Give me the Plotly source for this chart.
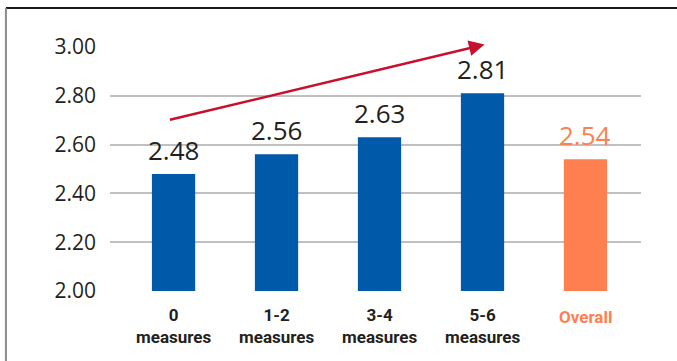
import plotly.graph_objects as go

cat_line1 = ["0", "1-2", "3-4", "5-6", "Overall"]
cat_line2 = ["measures", "measures", "measures", "measures", ""]
values = [2.48, 2.56, 2.63, 2.81, 2.54]
value_labels = ["2.48", "2.56", "2.63", "2.81", "2.54"]
y_ticks = [2.0, 2.2, 2.4, 2.6, 2.8, 3.0]
y_tick_labels = ["2.00", "2.20", "2.40", "2.60", "2.80", "3.00"]

BLUE = "#0059a9"
ORANGE = "#ff7f50"
TEXT = "#231f20"
bar_colors = [BLUE, BLUE, BLUE, BLUE, ORANGE]
label_colors = [TEXT, TEXT, TEXT, TEXT, ORANGE]

xs = list(range(len(cat_line1)))

fig = go.Figure()
fig.add_trace(go.Bar(
    x=xs, y=[v - 2.0 for v in values], base=2.0,
    marker=dict(color=bar_colors, line=dict(width=0)),
    width=0.42, hoverinfo="skip",
))

annotations = []
for x, v, t, c in zip(xs, values, value_labels, label_colors):
    annotations.append(dict(
        x=x, y=v, xref="x", yref="y", text=t, showarrow=False,
        yanchor="bottom", yshift=4,
        font=dict(family="Open Sans, Liberation Sans, sans-serif", size=26, color=c),
    ))

cat_font = dict(family="Roboto, sans-serif", size=17, weight="bold")
for x, l1, l2, c in zip(xs, cat_line1, cat_line2, label_colors):
    text = f"{l1}<br>{l2}" if l2 else l1
    annotations.append(dict(
        x=x, y=0, xref="x", yref="paper", text=text, showarrow=False,
        yanchor="middle", yshift=-35 if l2 else -26, borderpad=0,
        font=dict(color=c, **cat_font),
    ))

# trend arrow from first group to last group
arrow_start = (-0.05, 2.70)
arrow_end = (3.02, 3.01)
annotations.append(dict(
    x=arrow_end[0], y=arrow_end[1], ax=arrow_start[0], ay=arrow_start[1],
    xref="x", yref="y", axref="x", ayref="y", text="",
    showarrow=True, arrowhead=2, arrowsize=1.2, arrowwidth=2.6, arrowcolor="#c8102e",
))

fig.update_layout(
    width=677, height=361,
    margin=dict(l=110, r=36, t=47, b=70),
    paper_bgcolor="white", plot_bgcolor="white",
    showlegend=False,
    annotations=annotations,
    xaxis=dict(
        range=[-0.617, 4.539], tickvals=xs, showticklabels=False,
        showgrid=False, zeroline=False, showline=False, ticks="",
    ),
    yaxis=dict(
        range=[2.0, 3.0], tickvals=y_ticks, ticktext=y_tick_labels,
        showgrid=True, gridcolor="#c0c0c0", gridwidth=1.5,
        zeroline=False, showline=False, ticks="",
        ticklabelstandoff=13,
        tickfont=dict(family="Open Sans, Liberation Sans, sans-serif", size=21, color=TEXT),
    ),
    shapes=[
        dict(type="line", xref="paper", yref="paper", x0=-0.196, x1=1.2, y0=1.16, y1=1.16,
             line=dict(color="#1a1a1a", width=2)),
        dict(type="line", xref="paper", yref="paper", x0=-0.196, x1=-0.196, y0=1.16, y1=-0.4,
             line=dict(color="#8a8a8a", width=2)),
    ],
)

fig.write_html("out.html", config={"displayModeBar": False},
               post_script="document.body.style.margin='0';document.body.style.padding='0';")
